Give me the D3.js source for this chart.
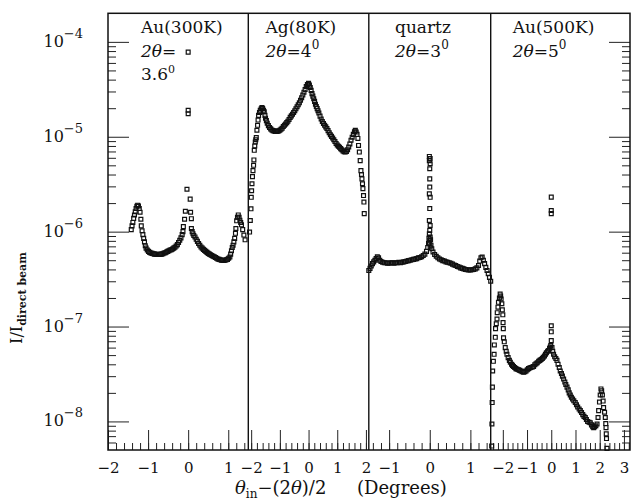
<!DOCTYPE html>
<html>
<head>
<meta charset="utf-8">
<script src="https://cdn.jsdelivr.net/npm/d3@7"></script>
<style>
  body { margin: 0; background: #fff; }
  text { font-family: "DejaVu Serif", serif; fill: #111; }
</style>
</head>
<body>
<div id="chart"></div>
<script>
// scattering curves, I/I_direct beam vs theta_in - (2theta)/2 (degrees)

const panelNames = ["Au(300K)", "Ag(80K)", "quartz", "Au(500K)"];
const panelAngles = ["3.6", "4", "3", "5"];
const panelDomains = [[-2, 1.5], [-2.1, 2.1], [-1.5, 1.5], [-2.5, 3.25]];
const panelTicks = [[-2, -1, 0, 1], [-2, -1, 0, 1, 2], [-1, 0, 1], [-2, -1, 0, 1, 2, 3]];
const panelTickLabels = [["−2", "−1", "0", "1"], ["−2", "−1", "0", "1", "2"], ["−1", "0", "1"], ["−2", "−1", "0", "1", "2", "3"]];
const yMajor = [1e-8, 1e-7, 1e-6, 1e-5, 1e-4];
const yMajorExp = ["−8", "−7", "−6", "−5", "−4"];

const au300 = [
  [-1.42,1.05e-6],[-1.40,1.15e-6],[-1.38,1.25e-6],[-1.36,1.38e-6],[-1.34,1.5e-6],[-1.32,1.62e-6],[-1.30,1.75e-6],
  [-1.28,1.85e-6],[-1.26,1.9e-6],[-1.24,1.86e-6],[-1.22,1.75e-6],[-1.20,1.6e-6],[-1.18,1.35e-6],[-1.17,1.15e-6],
  [-1.15,1.02e-6],[-1.13,9.3e-7],[-1.11,8.5e-7],[-1.09,7.8e-7],[-1.07,7.1e-7],[-1.05,6.7e-7],[-1.02,6.4e-7],
  [-0.99,6.2e-7],[-0.96,6.05e-7],[-0.93,5.95e-7],[-0.90,5.9e-7],[-0.87,5.85e-7],[-0.84,5.8e-7],[-0.81,5.8e-7],
  [-0.78,5.75e-7],[-0.75,5.75e-7],[-0.72,5.75e-7],[-0.69,5.8e-7],[-0.66,5.8e-7],[-0.63,5.85e-7],[-0.60,5.95e-7],
  [-0.57,6.0e-7],[-0.54,6.1e-7],[-0.51,6.2e-7],[-0.48,6.3e-7],[-0.45,6.4e-7],[-0.42,6.45e-7],[-0.39,6.55e-7],
  [-0.36,6.7e-7],[-0.33,6.85e-7],[-0.30,7.05e-7],[-0.27,7.3e-7],[-0.24,7.7e-7],[-0.21,8.1e-7],[-0.18,8.6e-7],
  [-0.15,9.3e-7],[-0.13,1.0e-6],[-0.12,1.13e-6],[-0.09,1.35e-6],[-0.07,1.64e-6],[-0.03,2.8e-6],
  [0,7.8e-5],[0,1.9e-5],[0,1.75e-5],
  [0.05,2.2e-6],[0.06,1.6e-6],[0.08,1.37e-6],[0.08,1.08e-6],[0.10,1.0e-6],[0.12,9.5e-7],[0.14,9.1e-7],
  [0.17,8.8e-7],[0.20,8.3e-7],[0.23,7.9e-7],[0.26,7.5e-7],[0.29,7.2e-7],[0.32,6.9e-7],[0.35,6.7e-7],
  [0.38,6.5e-7],[0.41,6.35e-7],[0.44,6.2e-7],[0.47,6.05e-7],[0.50,5.9e-7],[0.53,5.8e-7],[0.56,5.7e-7],
  [0.59,5.6e-7],[0.62,5.5e-7],[0.65,5.45e-7],[0.68,5.35e-7],[0.71,5.25e-7],[0.74,5.15e-7],[0.77,5.1e-7],
  [0.80,5.05e-7],[0.83,5.0e-7],[0.86,5.0e-7],[0.89,4.97e-7],[0.92,5.0e-7],[0.95,5.05e-7],[0.98,5.1e-7],
  [1.01,5.25e-7],[1.04,5.4e-7],[1.06,5.8e-7],[1.08,6.3e-7],[1.10,6.8e-7],[1.12,7.2e-7],[1.14,7.8e-7],
  [1.16,8.5e-7],[1.18,9.6e-7],[1.19,1.08e-6],[1.21,1.3e-6],[1.23,1.42e-6],[1.25,1.5e-6],[1.27,1.42e-6],
  [1.29,1.32e-6],[1.31,1.25e-6],[1.33,1.18e-6],[1.36,1.05e-6],[1.39,9.2e-7],[1.42,8.2e-7]
];

const ag80 = [
  [-2.056,9.9e-7],[-2.03,1.31e-6],[-2.007,1.74e-6],[-1.997,2.3e-6],[-1.985,2.7e-6],[-1.972,3.2e-6],[-1.955,3.8e-6],
  [-1.937,4.4e-6],[-1.916,5.0e-6],[-1.905,5.7e-6],[-1.892,7.2e-6],[-1.875,8.0e-6],[-1.857,8.8e-6],[-1.84,9.3e-6],
  [-1.822,9.8e-6],[-1.80,1.17e-5],[-1.777,1.32e-5],[-1.76,1.5e-5],[-1.742,1.68e-5],[-1.71,1.8e-5],[-1.683,1.9e-5],
  [-1.65,1.97e-5],[-1.624,2.03e-5],[-1.60,1.98e-5],[-1.57,1.9e-5],[-1.544,1.83e-5],[-1.52,1.68e-5],[-1.50,1.57e-5],
  [-1.47,1.48e-5],[-1.44,1.39e-5],[-1.40,1.31e-5],[-1.36,1.25e-5],[-1.32,1.21e-5],[-1.28,1.18e-5],[-1.24,1.16e-5],
  [-1.20,1.15e-5],[-1.16,1.14e-5],[-1.12,1.14e-5],[-1.08,1.145e-5],[-1.04,1.15e-5],[-1.00,1.17e-5],[-0.96,1.2e-5],
  [-0.92,1.23e-5],[-0.88,1.28e-5],[-0.84,1.32e-5],[-0.80,1.36e-5],[-0.76,1.41e-5],[-0.72,1.46e-5],[-0.68,1.52e-5],
  [-0.64,1.6e-5],[-0.60,1.66e-5],[-0.56,1.73e-5],[-0.52,1.8e-5],[-0.48,1.88e-5],[-0.44,1.97e-5],[-0.40,2.07e-5],
  [-0.36,2.17e-5],[-0.32,2.28e-5],[-0.28,2.42e-5],[-0.24,2.58e-5],[-0.20,2.75e-5],[-0.16,2.95e-5],[-0.12,3.15e-5],
  [-0.08,3.38e-5],[-0.04,3.55e-5],[0,3.65e-5],[0.03,3.5e-5],[0.06,3.3e-5],[0.09,3.08e-5],[0.12,2.85e-5],
  [0.15,2.68e-5],[0.18,2.52e-5],[0.21,2.36e-5],[0.24,2.2e-5],[0.27,2.08e-5],[0.30,1.98e-5],[0.33,1.88e-5],
  [0.36,1.78e-5],[0.40,1.65e-5],[0.44,1.54e-5],[0.48,1.45e-5],[0.52,1.38e-5],[0.56,1.32e-5],[0.60,1.27e-5],
  [0.64,1.22e-5],[0.68,1.16e-5],[0.72,1.1e-5],[0.76,1.05e-5],[0.80,1.01e-5],[0.84,9.7e-6],[0.88,9.3e-6],
  [0.92,8.9e-6],[0.96,8.5e-6],[1.00,8.2e-6],[1.04,7.95e-6],[1.08,7.75e-6],[1.12,7.5e-6],[1.16,7.3e-6],
  [1.20,7.1e-6],[1.24,6.95e-6],[1.28,6.9e-6],[1.32,7.0e-6],[1.36,7.3e-6],[1.40,7.8e-6],[1.44,8.4e-6],
  [1.48,9.2e-6],[1.52,9.9e-6],[1.56,1.06e-5],[1.60,1.13e-5],[1.63,1.17e-5],[1.66,1.12e-5],[1.69,1.06e-5],
  [1.72,9.6e-6],[1.742,8.1e-6],[1.77,6.9e-6],[1.80,5.6e-6],[1.826,4.4e-6],[1.845,4.0e-6],[1.861,3.6e-6],
  [1.88,3.2e-6],[1.895,2.84e-6],[1.916,2.4e-6],[1.93,2.05e-6],[1.941,1.55e-6]
];

const quartz = [
  [-1.50,3.9e-7],[-1.47,4.1e-7],[-1.44,4.35e-7],[-1.41,4.6e-7],[-1.38,4.8e-7],[-1.35,5.0e-7],[-1.32,5.2e-7],
  [-1.29,5.45e-7],[-1.26,5.3e-7],[-1.23,5.0e-7],[-1.20,4.85e-7],[-1.16,4.75e-7],[-1.12,4.7e-7],[-1.08,4.7e-7],
  [-1.04,4.65e-7],[-1.00,4.65e-7],[-0.96,4.7e-7],[-0.92,4.7e-7],[-0.88,4.65e-7],[-0.84,4.7e-7],[-0.80,4.7e-7],
  [-0.76,4.75e-7],[-0.72,4.7e-7],[-0.68,4.75e-7],[-0.64,4.8e-7],[-0.60,4.85e-7],[-0.56,4.9e-7],[-0.52,4.95e-7],
  [-0.48,5.0e-7],[-0.44,5.05e-7],[-0.40,5.1e-7],[-0.36,5.15e-7],[-0.32,5.2e-7],[-0.28,5.3e-7],[-0.24,5.35e-7],
  [-0.20,5.45e-7],[-0.16,5.6e-7],[-0.12,5.8e-7],[-0.08,6.2e-7],[-0.05,6.8e-7],[-0.03,7.5e-7],[-0.02,8.5e-7],
  [-0.01,6.2e-6],[0.01,5.9e-6],[-0.01,5.6e-6],[0.01,5.2e-6],[0,4.6e-6],[0,3.6e-6],[0,2.95e-6],[-0.01,2.5e-6],
  [0.01,2.3e-6],[0,1.75e-6],[-0.01,1.31e-6],[0.01,1.16e-6],[0,1.03e-6],[-0.01,9.5e-7],[0.01,8.8e-7],
  [0,8.1e-7],[-0.01,7.5e-7],[0.01,6.9e-7],
  [0.02,8.2e-7],[0.03,7.2e-7],[0.05,6.6e-7],[0.08,6.1e-7],[0.12,5.75e-7],[0.16,5.5e-7],[0.20,5.3e-7],
  [0.24,5.15e-7],[0.28,5.05e-7],[0.32,4.95e-7],[0.36,4.9e-7],[0.40,4.8e-7],[0.44,4.75e-7],[0.48,4.7e-7],
  [0.52,4.65e-7],[0.56,4.55e-7],[0.60,4.45e-7],[0.64,4.4e-7],[0.68,4.3e-7],[0.72,4.25e-7],[0.76,4.15e-7],
  [0.80,4.1e-7],[0.84,4.05e-7],[0.88,4.0e-7],[0.92,3.97e-7],[0.96,3.95e-7],[1.00,3.95e-7],[1.04,3.97e-7],
  [1.08,4.0e-7],[1.12,4.05e-7],[1.16,4.15e-7],[1.20,4.4e-7],[1.23,4.9e-7],[1.26,5.3e-7],[1.29,5.4e-7],
  [1.32,5.0e-7],[1.35,4.6e-7],[1.38,4.2e-7],[1.41,3.9e-7],[1.44,3.6e-7],[1.47,3.3e-7],[1.50,3.0e-7]
];

const au500 = [
  [-2.46,5.5e-9],[-2.45,9.4e-9],[-2.44,1.58e-8],[-2.43,2.3e-8],[-2.42,3.4e-8],[-2.39,4.3e-8],[-2.36,5.1e-8],
  [-2.35,6.4e-8],[-2.31,7.7e-8],[-2.30,9.5e-8],[-2.27,1.07e-7],[-2.24,1.2e-7],[-2.23,1.4e-7],[-2.20,1.6e-7],
  [-2.18,1.8e-7],[-2.14,2.0e-7],[-2.11,2.2e-7],[-2.09,2.1e-7],[-2.07,1.95e-7],[-2.04,1.74e-7],[-2.02,1.5e-7],
  [-2.00,1.33e-7],[-1.99,1.1e-7],[-1.98,9.5e-8],[-1.97,7.6e-8],[-1.94,6.9e-8],[-1.90,6.0e-8],[-1.86,5.5e-8],
  [-1.83,5.1e-8],[-1.78,4.7e-8],[-1.73,4.4e-8],[-1.69,4.2e-8],[-1.64,4.0e-8],[-1.60,3.9e-8],[-1.56,3.8e-8],
  [-1.51,3.7e-8],[-1.46,3.6e-8],[-1.41,3.55e-8],[-1.35,3.5e-8],[-1.30,3.45e-8],[-1.25,3.4e-8],[-1.20,3.35e-8],
  [-1.14,3.3e-8],[-1.09,3.35e-8],[-1.04,3.4e-8],[-0.99,3.5e-8],[-0.94,3.6e-8],[-0.89,3.65e-8],[-0.84,3.7e-8],
  [-0.78,3.75e-8],[-0.73,3.8e-8],[-0.68,3.95e-8],[-0.63,4.05e-8],[-0.58,4.15e-8],[-0.52,4.3e-8],[-0.47,4.4e-8],
  [-0.42,4.5e-8],[-0.37,4.6e-8],[-0.33,4.75e-8],[-0.28,4.9e-8],[-0.24,5.1e-8],[-0.20,5.3e-8],[-0.15,5.5e-8],
  [-0.11,5.6e-8],[-0.07,5.9e-8],[-0.04,6.1e-8],[-0.02,6.3e-8],
  [0,7.1e-8],[0,8.8e-8],[0,1.02e-7],[0,1.55e-6],[0,1.67e-6],[0,2.31e-6],
  [0.03,6.0e-8],[0.06,5.5e-8],[0.095,5.1e-8],[0.14,4.8e-8],[0.19,4.6e-8],[0.235,4.4e-8],[0.28,4.0e-8],
  [0.33,3.7e-8],[0.37,3.4e-8],[0.42,3.2e-8],[0.46,3.0e-8],[0.51,2.8e-8],[0.56,2.6e-8],[0.60,2.45e-8],
  [0.65,2.3e-8],[0.70,2.15e-8],[0.74,2.0e-8],[0.785,1.9e-8],[0.83,1.8e-8],[0.88,1.72e-8],[0.93,1.65e-8],
  [0.99,1.58e-8],[1.04,1.5e-8],[1.09,1.42e-8],[1.15,1.35e-8],[1.20,1.3e-8],[1.25,1.24e-8],[1.30,1.18e-8],
  [1.35,1.13e-8],[1.405,1.1e-8],[1.45,1.05e-8],[1.50,1.0e-8],[1.56,9.8e-9],[1.61,9.7e-9],[1.66,9.2e-9],
  [1.71,8.8e-9],[1.75,8.6e-9],[1.79,8.8e-9],[1.84,9.0e-9],[1.89,9.4e-9],[1.93,1.1e-8],[1.955,1.3e-8],
  [1.99,1.6e-8],[2.02,1.9e-8],[2.05,2.2e-8],[2.08,2.1e-8],[2.11,1.9e-8],[2.14,1.64e-8],[2.16,1.4e-8],
  [2.20,1.25e-8],[2.23,1.1e-8],[2.25,9.5e-9],[2.26,8.6e-9],[2.27,7.4e-9],[2.28,6.6e-9],[2.30,5.2e-9]
];

const panelData = [au300, ag80, quartz, au500];

// layout
const width = 631, height = 500;
const frame = { left: 108, right: 630, top: 13.3, bottom: 450 };
const panelRanges = [[108, 248.3], [248.3, 368.8], [368.8, 490.7], [490.7, 630]];
const labelX = [141, 265.5, 395, 512.7];

const svg = d3.select("#chart").append("svg")
    .attr("width", width).attr("height", height)
    .attr("viewBox", `0 0 ${width} ${height}`);

const y = d3.scaleLog().domain([5e-9, 2e-4]).range([frame.bottom, frame.top]);

const yMinor = [];
for (let e = -9; e <= -4; e++) {
    for (let k = 2; k <= 9; k++) {
        const v = k * Math.pow(10, e);
        if (v > 5.01e-9 && v < 1.99e-4) yMinor.push(v);
    }
}

function cleanAxis(g) {
    g.select(".domain").remove();
    g.selectAll(".tick line").attr("stroke", "#222").attr("stroke-width", 1);
}

// left & right axis ticks (inward)
svg.append("g").attr("transform", `translate(${frame.left},0)`)
    .call(d3.axisRight(y).tickValues(yMajor).tickSize(21).tickFormat(""))
    .call(cleanAxis);
svg.append("g").attr("transform", `translate(${frame.left},0)`)
    .call(d3.axisRight(y).tickValues(yMinor).tickSize(8).tickFormat(""))
    .call(cleanAxis);
svg.append("g").attr("transform", `translate(${frame.right},0)`)
    .call(d3.axisLeft(y).tickValues(yMajor).tickSize(21).tickFormat(""))
    .call(cleanAxis);
svg.append("g").attr("transform", `translate(${frame.right},0)`)
    .call(d3.axisLeft(y).tickValues(yMinor).tickSize(8).tickFormat(""))
    .call(cleanAxis);

// y tick labels 10^n
const yLab = svg.append("g").selectAll("text").data(yMajor).join("text")
    .attr("x", 83).attr("y", d => y(d) + 5)
    .attr("text-anchor", "end")
    .style("font-size", "16px");
yLab.append("tspan").text("10");
yLab.append("tspan").attr("dy", -9).style("font-size", "13px").text((d, i) => yMajorExp[i]);

// panels
const symbol = d3.symbol(d3.symbolSquare, 15);

panelData.forEach((data, i) => {
    const x = d3.scaleLinear().domain(panelDomains[i]).range(panelRanges[i]);
    const dom = panelDomains[i];
    const minor = d3.range(Math.ceil(dom[0] * 5), Math.floor(dom[1] * 5) + 1).map(k => k / 5);

    svg.append("g").attr("transform", `translate(0,${frame.bottom})`)
        .call(d3.axisBottom(x).tickValues(minor).tickSize(-7).tickFormat(""))
        .call(cleanAxis);
    const ax = svg.append("g").attr("transform", `translate(0,${frame.bottom})`)
        .call(d3.axisBottom(x).tickValues(panelTicks[i]).tickSize(-20).tickPadding(12)
            .tickFormat((d, j) => panelTickLabels[i][j]))
        .call(cleanAxis);
    ax.selectAll(".tick text")
        .attr("font-family", null).attr("font-size", null)
        .style("font-size", "15px").attr("fill", "#111");

    // points
    svg.append("g").selectAll("path").data(data).join("path")
        .attr("d", symbol)
        .attr("transform", d => `translate(${x(d[0])},${y(d[1])})`)
        .attr("fill", "none")
        .attr("stroke", "#111")
        .attr("stroke-width", 1.2);

    // panel labels
    svg.append("text").attr("x", labelX[i]).attr("y", 33)
        .style("font-size", "17px").text(panelNames[i]);
    const t2 = svg.append("text").attr("x", labelX[i]).attr("y", 57).style("font-size", "17px");
    t2.append("tspan").style("font-style", "italic").text("2θ");
    if (i === 0) {
        t2.append("tspan").text("=");
        const t3 = svg.append("text").attr("x", labelX[i]).attr("y", 80).style("font-size", "17px");
        t3.append("tspan").text(panelAngles[i]);
        t3.append("tspan").attr("dy", -7).style("font-size", "11px").text("0");
    } else {
        t2.append("tspan").text("=" + panelAngles[i]);
        t2.append("tspan").attr("dy", -8).style("font-size", "12px").text("0");
    }
});

// frame and panel dividers
svg.append("rect")
    .attr("x", frame.left).attr("y", frame.top)
    .attr("width", frame.right - frame.left).attr("height", frame.bottom - frame.top)
    .attr("fill", "none").attr("stroke", "#111").attr("stroke-width", 1.5);
svg.append("g").selectAll("line").data(panelRanges.slice(1)).join("line")
    .attr("x1", d => d[0]).attr("x2", d => d[0])
    .attr("y1", frame.top).attr("y2", frame.bottom)
    .attr("stroke", "#111").attr("stroke-width", 1.4);

// axis titles
const xt = svg.append("text").attr("x", 235).attr("y", 494).style("font-size", "18px");
xt.append("tspan").style("font-style", "italic").text("θ");
xt.append("tspan").attr("dy", 4).style("font-size", "12px").text("in");
xt.append("tspan").attr("dy", -4).text("−(2");
xt.append("tspan").style("font-style", "italic").text("θ");
xt.append("tspan").text(")/2");
svg.append("text").attr("x", 357).attr("y", 494).style("font-size", "18px").text("(Degrees)");

const yt = svg.append("text")
    .attr("transform", "translate(22,298) rotate(-90)")
    .attr("text-anchor", "middle")
    .style("font-size", "16px");
yt.append("tspan").text("I/I");
yt.append("tspan").attr("dy", 4).style("font-size", "11px").style("font-weight", "bold").text("direct beam");
</script>
</body>
</html>
